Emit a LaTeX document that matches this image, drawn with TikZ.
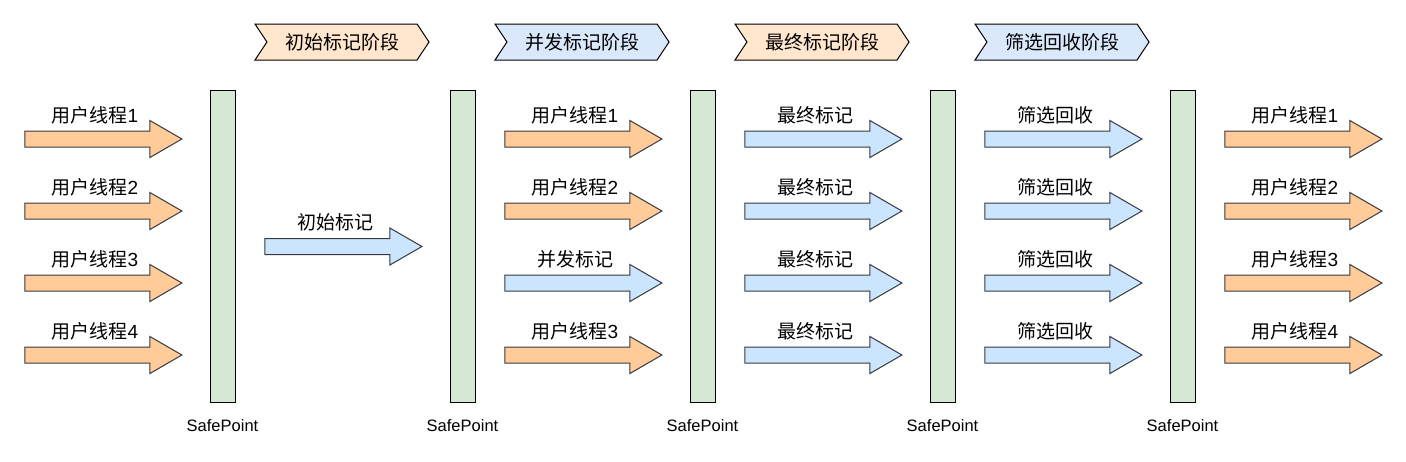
\documentclass[tikz,border=0pt]{standalone}
\usepackage{fontspec}
\setmainfont{Liberation Sans}
\newfontfamily\cjk{Noto Sans CJK SC}
\usepackage{tikz}
\usetikzlibrary{shapes.arrows,shapes.symbols,positioning}

\definecolor{userfill}{HTML}{FFCC99}
\definecolor{markfill}{HTML}{CCE5FF}
\definecolor{arrowdraw}{HTML}{36393D}
\definecolor{barfill}{HTML}{D5E8D4}
\definecolor{orangephase}{HTML}{FFE6CC}
\definecolor{bluephase}{HTML}{DAE8FC}

\begin{document}
\begin{tikzpicture}
[
	x=1pt, y=-1pt,
	arrowbase/.style = {single arrow, draw=arrowdraw, line width=1pt, minimum height=157pt, single arrow head extend=10.5pt, single arrow tip angle=60, inner xsep=0pt, inner ysep=7.5pt, outer sep=0pt},
	userarrow/.style = {arrowbase, fill=userfill},
	markarrow/.style = {arrowbase, fill=markfill},
	tag/.style = {inner sep=0pt, font=\fontsize{19}{22}\selectfont},
	safebar/.style = {rectangle, draw, line width=1pt, fill=barfill, minimum width=25pt, minimum height=312pt},
	sptext/.style = {inner sep=0pt, font=\fontsize{16.5}{19}\selectfont},
	phasebox/.style = {signal, signal to=east, signal from=west, signal pointer angle=113, draw, line width=1pt, minimum width=174pt, minimum height=36pt, inner sep=0pt, font=\fontsize{19}{22}\selectfont\cjk}
]
\useasboundingbox (0,0) rectangle (1406,461);

% phases
\node[phasebox, fill=orangephase] (phase1) at (342,42) {初始标记阶段};
\node[phasebox, fill=bluephase] (phase2) at (582,42) {并发标记阶段};
\node[phasebox, fill=orangephase] (phase3) at (822,42) {最终标记阶段};
\node[phasebox, fill=bluephase] (phase4) at (1062,42) {筛选回收阶段};

% safepoints
\node[safebar] (sp1) at (222.5,246) {};
\node[safebar] (sp2) at (462.5,246) {};
\node[safebar] (sp3) at (702.5,246) {};
\node[safebar] (sp4) at (942.5,246) {};
\node[safebar] (sp5) at (1182.5,246) {};
\node[sptext, below=17pt of sp1] (sp1text) {SafePoint};
\node[sptext, below=17pt of sp2] (sp2text) {SafePoint};
\node[sptext, below=17pt of sp3] (sp3text) {SafePoint};
\node[sptext, below=17pt of sp4] (sp4text) {SafePoint};
\node[sptext, below=17pt of sp5] (sp5text) {SafePoint};

% before the initial mark
\node[userarrow] (a01) at (96.5,139) {};
\node[userarrow] (a02) at (96.5,211) {};
\node[userarrow] (a03) at (96.5,283) {};
\node[userarrow] (a04) at (96.5,355) {};
\node[tag] (l01) at ([xshift=-1.5pt,yshift=24pt] a01.center) {{\cjk 用户线程}1};
\node[tag] (l02) at ([xshift=-1.5pt,yshift=24pt] a02.center) {{\cjk 用户线程}2};
\node[tag] (l03) at ([xshift=-1.5pt,yshift=24pt] a03.center) {{\cjk 用户线程}3};
\node[tag] (l04) at ([xshift=-1.5pt,yshift=24pt] a04.center) {{\cjk 用户线程}4};

% initial mark
\node[markarrow] (a11) at (336.5,246.5) {};
\node[tag] (l11) at ([xshift=-1.5pt,yshift=24pt] a11.center) {\cjk 初始标记};

% concurrent mark
\node[userarrow] (a21) at (576.5,139) {};
\node[userarrow] (a22) at (576.5,211) {};
\node[markarrow] (a23) at (576.5,283) {};
\node[userarrow] (a24) at (576.5,355) {};
\node[tag] (l21) at ([xshift=-1.5pt,yshift=24pt] a21.center) {{\cjk 用户线程}1};
\node[tag] (l22) at ([xshift=-1.5pt,yshift=24pt] a22.center) {{\cjk 用户线程}2};
\node[tag] (l23) at ([xshift=-1.5pt,yshift=24pt] a23.center) {\cjk 并发标记};
\node[tag] (l24) at ([xshift=-1.5pt,yshift=24pt] a24.center) {{\cjk 用户线程}3};

% final mark
\node[markarrow] (a31) at (816.5,139) {};
\node[markarrow] (a32) at (816.5,211) {};
\node[markarrow] (a33) at (816.5,283) {};
\node[markarrow] (a34) at (816.5,355) {};
\node[tag] (l31) at ([xshift=-1.5pt,yshift=24pt] a31.center) {\cjk 最终标记};
\node[tag] (l32) at ([xshift=-1.5pt,yshift=24pt] a32.center) {\cjk 最终标记};
\node[tag] (l33) at ([xshift=-1.5pt,yshift=24pt] a33.center) {\cjk 最终标记};
\node[tag] (l34) at ([xshift=-1.5pt,yshift=24pt] a34.center) {\cjk 最终标记};

% live data counting and evacuation
\node[markarrow] (a41) at (1056.5,139) {};
\node[markarrow] (a42) at (1056.5,211) {};
\node[markarrow] (a43) at (1056.5,283) {};
\node[markarrow] (a44) at (1056.5,355) {};
\node[tag] (l41) at ([xshift=-1.5pt,yshift=24pt] a41.center) {\cjk 筛选回收};
\node[tag] (l42) at ([xshift=-1.5pt,yshift=24pt] a42.center) {\cjk 筛选回收};
\node[tag] (l43) at ([xshift=-1.5pt,yshift=24pt] a43.center) {\cjk 筛选回收};
\node[tag] (l44) at ([xshift=-1.5pt,yshift=24pt] a44.center) {\cjk 筛选回收};

% user threads resume
\node[userarrow] (a51) at (1296.5,139) {};
\node[userarrow] (a52) at (1296.5,211) {};
\node[userarrow] (a53) at (1296.5,283) {};
\node[userarrow] (a54) at (1296.5,355) {};
\node[tag] (l51) at ([xshift=-1.5pt,yshift=24pt] a51.center) {{\cjk 用户线程}1};
\node[tag] (l52) at ([xshift=-1.5pt,yshift=24pt] a52.center) {{\cjk 用户线程}2};
\node[tag] (l53) at ([xshift=-1.5pt,yshift=24pt] a53.center) {{\cjk 用户线程}3};
\node[tag] (l54) at ([xshift=-1.5pt,yshift=24pt] a54.center) {{\cjk 用户线程}4};

\end{tikzpicture}
\end{document}
